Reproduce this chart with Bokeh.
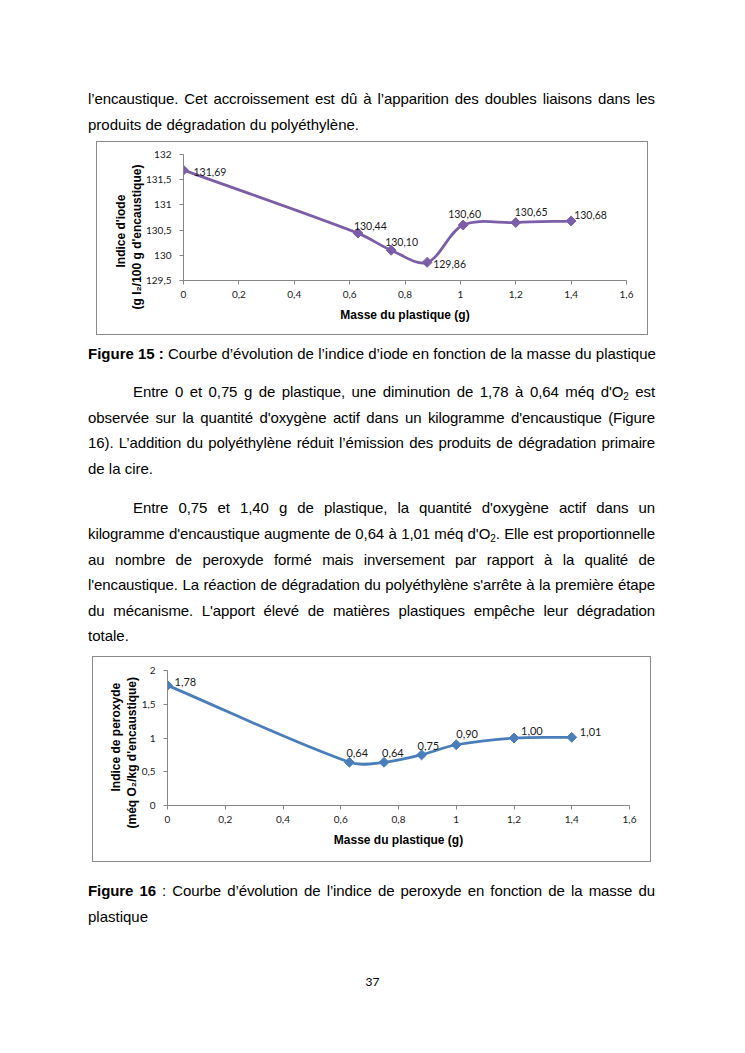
import math
from bokeh.plotting import figure
from bokeh.layouts import column, row
from bokeh.models import (Div, Spacer, ColumnDataSource, FixedTicker,
                          CustomJSTickFormatter, Title)
from bokeh.core.properties import value
from bokeh.embed import file_html
from bokeh.resources import INLINE

# ---------------- data ----------------
masse_iode = [0, 0.63, 0.75, 0.88, 1.01, 1.2, 1.4]
indice_iode = [131.69, 130.44, 130.10, 129.86, 130.60, 130.65, 130.68]

masse_perox = [0, 0.63, 0.75, 0.88, 1.0, 1.2, 1.4]
indice_peroxyde = [1.78, 0.64, 0.64, 0.75, 0.90, 1.00, 1.01]

x_ticks = [0, 0.2, 0.4, 0.6, 0.8, 1.0, 1.2, 1.4, 1.6]
iode_ticks = [129.5, 130, 130.5, 131, 131.5, 132]
perox_ticks = [0, 0.5, 1, 1.5, 2]

# data-label offsets in pixels (styling)
iode_dx = [10, -4, -6, 6, -15, -1, 3]
iode_dy = [2, -7, -8, 2, -11, -11, -6]
perox_dx = [7, -3, -2, -4, 0, 7, 8]
perox_dy = [-3, -9, -9, -9, -11, -7, -5]

FMT = CustomJSTickFormatter(code="return (Math.round(tick*10)/10).toString().replace('.', ',');")


def smooth_bezier(xs, ys, kx, ky):
    """Excel-like smoothed line: cubic Bezier segments through the points."""
    pts = [(x * kx, y * ky) for x, y in zip(xs, ys)]
    n = len(pts)
    out = {k: [] for k in ("x0", "y0", "x1", "y1", "cx0", "cy0", "cx1", "cy1")}

    def dist(a, b):
        return math.hypot(a[0] - b[0], a[1] - b[1])

    for i in range(n - 1):
        p0 = pts[i - 1] if i > 0 else pts[i]
        p1, p2 = pts[i], pts[i + 1]
        p3 = pts[i + 2] if i + 2 < n else pts[i + 1]
        d01, d12, d23 = dist(p0, p1), dist(p1, p2), dist(p2, p3)
        f1 = d12 / (3 * (d01 + d12)) if d01 + d12 > 0 else 0
        f2 = d12 / (3 * (d12 + d23)) if d12 + d23 > 0 else 0
        c1 = (p1[0] + (p2[0] - p0[0]) * f1, p1[1] + (p2[1] - p0[1]) * f1)
        c2 = (p2[0] - (p3[0] - p1[0]) * f2, p2[1] - (p3[1] - p1[1]) * f2)
        out["x0"].append(p1[0] / kx); out["y0"].append(p1[1] / ky)
        out["x1"].append(p2[0] / kx); out["y1"].append(p2[1] / ky)
        out["cx0"].append(c1[0] / kx); out["cy0"].append(c1[1] / ky)
        out["cx1"].append(c2[0] / kx); out["cy1"].append(c2[1] / ky)
    return out


def make_chart(xs, ys, color, yticks, w, h, bl, br, bt, bb,
               t1, t2, off1, off2, dx, dy, lab_size):
    yr = (yticks[0], yticks[-1])
    p = figure(width=w, height=h, x_range=(0, 1.6), y_range=yr,
               output_backend="svg", toolbar_location=None,
               min_border_left=bl, min_border_right=br,
               min_border_top=bt, min_border_bottom=bb,
               background_fill_color="white", border_fill_color=None,
               outline_line_color=None, margin=(0, 0, 0, 0),
               styles={"outline": "1px solid #8a8a8a", "outline-offset": "-1px"})
    p.grid.visible = False

    for ax in (p.xaxis, p.yaxis):
        ax.formatter = FMT
        ax.major_tick_in = 0
        ax.major_tick_out = 4
        ax.minor_tick_in = 0
        ax.minor_tick_out = 0
        ax.axis_line_color = "#868686"
        ax.major_tick_line_color = "#868686"
        ax.major_label_text_font = "Lato"
        ax.major_label_text_font_size = "10px"
        ax.major_label_text_color = "#1a1a1a"
        ax.major_label_standoff = 8
    p.xaxis.ticker = FixedTicker(ticks=x_ticks)
    p.yaxis.ticker = FixedTicker(ticks=yticks)
    p.xaxis.major_label_standoff = 6
    p.xaxis.axis_label = "Masse du plastique (g)"
    p.xaxis.axis_label_text_font = "Liberation Sans"
    p.xaxis.axis_label_text_font_style = "bold"
    p.xaxis.axis_label_text_font_size = "12px"
    p.xaxis.axis_label_text_color = "#000000"
    p.xaxis.axis_label_standoff = 7

    kx = (w - bl - br) / (1.6 - 0)
    ky = (h - bt - bb) / (yr[1] - yr[0])
    seg = ColumnDataSource(smooth_bezier(xs, ys, kx, ky))
    p.bezier(x0="x0", y0="y0", x1="x1", y1="y1", cx0="cx0", cy0="cy0",
             cx1="cx1", cy1="cy1", source=seg, line_color=color, line_width=2.75)
    p.scatter(xs, ys, marker="square", angle=math.pi / 4, size=7,
              fill_color=color, line_color=color)

    labels = ColumnDataSource(dict(
        x=xs, y=ys, t=[f"{v:.2f}".replace(".", ",") for v in ys], dx=dx, dy=dy))
    p.text(x="x", y="y", text="t", x_offset="dx", y_offset="dy", source=labels,
           text_font=value("Lato"), text_font_size=value(lab_size),
           text_align="left", text_baseline="middle", text_color="#1a1a1a")

    # two-line rotated y-axis title as stacked left titles
    for txt, off in ((t2, off2), (t1, off1)):
        p.add_layout(Title(text=txt, align="left", offset=off, standoff=0,
                           text_font="Liberation Sans", text_font_style="bold",
                           text_font_size="12px", text_color="#000000"), "left")
    return p


# ---------------- text helpers ----------------
LH = 25.6
FONT = "font-family:'Liberation Sans',Arial,sans-serif;font-size:15px;color:#000;"
O2 = 'O<sub style="font-size:10px;line-height:0;vertical-align:-3px">2</sub>'


def ln(html, justify=True, indent=0, mt=0):
    if justify:
        extra = "text-align:justify;text-align-last:justify;letter-spacing:-0.1px;"
    else:
        extra = "text-align:left;white-space:nowrap;"
    return (f'<div style="box-sizing:border-box;height:{LH}px;line-height:{LH}px;{extra}'
            f'padding-left:{indent}px;margin-top:{mt}px">{html}</div>')


def block(lines, top):
    return (f'<div style="box-sizing:content-box;padding:{top}px 0 0 88px;width:567px;{FONT}">'
            + "".join(lines) + "</div>")


div1 = Div(width=737, height=141, margin=0, text=block([
    ln("l’encaustique. Cet accroissement est dû à l’apparition des doubles liaisons dans les"),
    ln("produits de dégradation du polyéthylène.", justify=False),
], 86.2))

div2 = Div(width=737, height=321, margin=0, text=block([
    ln("<b>Figure 15 :</b> Courbe d’évolution de l’indice d’iode en fonction de la masse du plastique",
       justify=False),
    ln(f"Entre 0 et 0,75 g de plastique, une diminution de 1,78 à 0,64 méq d'{O2} est",
       indent=45, mt=12.4),
    ln("observée sur la quantité d'oxygène actif dans un kilogramme d'encaustique (Figure"),
    ln("16). L’addition du polyéthylène réduit l’émission des produits de dégradation primaire"),
    ln("de la cire.", justify=False),
    ln("Entre 0,75 et 1,40 g de plastique, la quantité d'oxygène actif dans un",
       indent=45, mt=13.9),
    ln(f"kilogramme d'encaustique augmente de 0,64 à 1,01 méq d'{O2}. Elle est proportionnelle"),
    ln("au nombre de peroxyde formé mais inversement par rapport à la qualité de"),
    ln("l'encaustique. La réaction de dégradation du polyéthylène s'arrête à la première étape"),
    ln("du mécanisme. L'apport élevé de matières plastiques empêche leur dégradation"),
    ln("totale.", justify=False),
], 6.2))

div3 = Div(width=737, height=183, margin=0, text=block([
    ln("<b>Figure 16</b> : Courbe d’évolution de l’indice de peroxyde en fonction de la masse du"),
    ln("plastique", justify=False),
], 16.2) + (f'<div style="margin-top:39.8px;height:{LH}px;line-height:{LH}px;width:745px;'
            f'text-align:center;font-family:Lato,sans-serif;font-size:12px;color:#000">37</div>'))

# ---------------- charts ----------------
p1 = make_chart(masse_iode, indice_iode, "#7B5EA7", iode_ticks,
                552, 194, 87, 22, 13, 55,
                "Indice d'iode", "(g I₂/100 g d'encaustique)",
                13, -29, iode_dx, iode_dy, "10.5px")

p2 = make_chart(masse_perox, indice_peroxyde, "#4A7EBB", perox_ticks,
                559, 206, 75, 22, 14, 57,
                "Indice de peroxyde", "(méq O₂/kg d'encaustique)",
                14, -23, perox_dx, perox_dy, "11px")

layout = column(
    div1,
    row(Spacer(width=96, height=194, margin=0), p1, margin=0),
    div2,
    row(Spacer(width=92, height=206, margin=0), p2, margin=0),
    div3,
    margin=0,
)

open("out.html", "w").write(file_html(layout, INLINE))
